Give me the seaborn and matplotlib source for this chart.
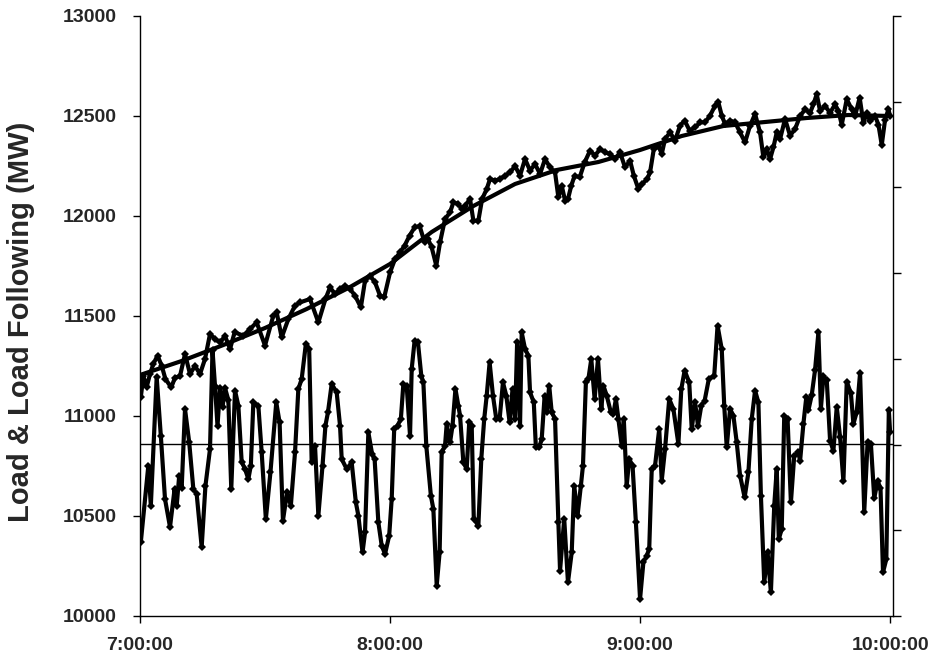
import matplotlib
matplotlib.use("Agg")
import matplotlib.pyplot as plt
import seaborn as sns
import pandas as pd

# minutes after 7:00:00
LOAD_T = [
    0.2, 0.8, 1.6, 2.4, 3.2, 4.2, 5.2, 6.1, 7.5, 8.4, 9.6, 10.8, 12.0, 13.2, 14.4,
    15.6, 16.8, 18.0, 19.2, 20.4, 21.6, 22.7, 24.8, 26.4, 28.0, 30.0, 32.0, 32.8,
    34.0, 35.6, 37.2, 38.4, 40.8, 42.8, 44.5, 45.6, 46.8, 48.0, 49.2, 50.4, 51.6,
    53.0, 54.0, 55.2, 56.4, 57.6, 58.6, 60.0, 61.2, 62.4, 63.5, 64.7, 65.9, 67.1,
    68.3, 69.1, 70.0, 71.1, 72.0, 73.2, 74.4, 75.2, 76.4, 77.2, 78.0, 79.2, 80.0,
    81.2, 82.1, 83.2, 84.0, 85.2, 86.4, 87.6, 88.8, 90.0, 91.2, 92.4, 93.6, 94.8,
    96.0, 97.2, 98.4, 99.6, 100.4, 101.2, 102.0, 102.7, 103.5, 104.3, 105.5,
    106.7, 108.0, 109.2, 110.4, 111.6, 112.8, 114.0, 115.2, 116.4, 117.6, 118.5,
    119.6, 120.5, 121.7, 122.4, 123.3, 124.4, 125.2, 126.0, 127.2, 128.4, 129.6,
    130.7, 131.9, 133.2, 134.4, 135.6, 136.8, 138.0, 138.8, 139.6, 140.4, 141.6,
    142.8, 144.0, 145.2, 146.4, 147.6, 148.8, 149.6, 150.4, 151.2, 152.0, 152.8,
    153.6, 154.8, 156.0, 157.2, 158.4, 159.6, 160.8, 161.6, 162.4, 163.2, 164.4,
    165.6, 166.8, 167.6, 168.4, 169.6, 170.8, 171.6, 172.7, 173.6, 174.4, 175.2,
    176.4, 177.2, 178.0, 178.8, 179.6, 180.0,
]
LOAD_MW = [
    11095, 11200, 11145, 11210, 11260, 11302, 11252, 11185, 11143, 11192, 11200,
    11310, 11210, 11250, 11210, 11285, 11410, 11385, 11368, 11400, 11335, 11418,
    11402, 11435, 11468, 11352, 11502, 11518, 11393, 11485, 11552, 11568, 11585,
    11468, 11585, 11643, 11610, 11635, 11652, 11635, 11602, 11543, 11677, 11702,
    11668, 11602, 11593, 11718, 11785, 11818, 11852, 11902, 11943, 11950, 11868,
    11885, 11843, 11752, 11868, 11985, 12018, 12068, 12060, 12035, 12052, 12085,
    11977, 11977, 12085, 12135, 12185, 12177, 12185, 12202, 12218, 12250, 12202,
    12285, 12227, 12260, 12210, 12285, 12243, 12218, 12093, 12152, 12077, 12085,
    12152, 12202, 12193, 12268, 12327, 12302, 12335, 12318, 12310, 12285, 12318,
    12243, 12277, 12202, 12135, 12160, 12185, 12218, 12335, 12352, 12310, 12385,
    12418, 12377, 12452, 12477, 12427, 12443, 12468, 12468, 12502, 12552, 12568,
    12502, 12460, 12477, 12468, 12418, 12368, 12452, 12510, 12418, 12293, 12335,
    12285, 12343, 12418, 12385, 12485, 12402, 12435, 12500, 12533, 12516, 12558,
    12609, 12525, 12550, 12516, 12558, 12525, 12457, 12584, 12533, 12500, 12592,
    12465, 12516, 12474, 12500, 12457, 12355, 12482, 12533, 12500,
]

FOLLOW_T = [
    0.2, 2.0, 2.6, 4.0, 5.0, 6.0, 7.2, 8.3, 8.8, 9.4, 10.0, 10.8, 11.8, 12.8, 13.6,
    14.8, 15.7, 16.8, 17.4, 18.0, 18.6, 19.2, 19.8, 20.4, 21.2, 21.9, 22.8, 23.6,
    24.4, 25.2, 26.0, 26.6, 27.2, 28.4, 29.2, 30.2, 31.3, 32.7, 33.5, 34.3, 35.3,
    36.2, 37.2, 38.0, 38.8, 39.8, 40.6, 41.2, 42.0, 42.8, 43.8, 44.5, 45.1, 46.0,
    47.2, 48.0, 48.4, 49.6, 50.8, 51.8, 52.4, 53.4, 54.0, 54.8, 55.7, 56.3, 57.2,
    58.0, 58.8, 59.8, 60.4, 61.0, 61.8, 62.6, 63.2, 64.0, 64.8, 65.2, 65.9, 66.7,
    67.5, 68.0, 68.7, 69.8, 70.4, 71.2, 71.9, 72.4, 73.2, 73.6, 74.4, 75.0, 75.7,
    76.4, 76.8, 77.6, 78.4, 79.0, 79.6, 80.1, 81.2, 81.9, 82.6, 83.2, 83.9, 84.7,
    85.5, 86.3, 87.1, 87.9, 88.7, 89.4, 90.0, 90.5, 91.2, 91.6, 92.4, 93.2, 93.6,
    94.5, 95.0, 95.8, 96.4, 97.1, 97.6, 98.2, 98.8, 99.6, 100.4, 100.8, 101.8,
    102.7, 103.6, 104.2, 105.0, 105.8, 106.3, 107.0, 107.6, 108.3, 109.1, 109.9,
    110.7, 111.2, 112.0, 113.0, 113.6, 114.2, 114.8, 115.6, 116.1, 116.8, 117.4,
    118.2, 119.0, 120.0, 120.8, 121.6, 122.2, 122.8, 123.6, 124.6, 125.2, 126.0,
    127.0, 128.0, 129.2, 129.9, 130.7, 131.8, 132.4, 133.2, 133.9, 134.7, 135.5,
    136.5, 137.8, 138.6, 139.6, 140.2, 140.8, 141.6, 142.4, 143.2, 144.0, 145.1,
    146.0, 146.8, 147.6, 148.4, 149.0, 149.8, 150.6, 151.4, 152.2, 152.8, 153.3,
    154.0, 154.6, 155.4, 156.2, 157.0, 158.0, 158.4, 159.2, 159.9, 160.4, 161.2,
    162.0, 162.8, 163.4, 164.0, 164.8, 165.6, 166.4, 167.2, 168.0, 168.8, 169.6,
    170.6, 171.2, 172.0, 172.8, 173.8, 174.6, 175.4, 176.2, 177.0, 177.7, 178.3,
    179.1, 179.7, 180.0,
]
FOLLOW_MW = [
    10370, 10752, 10552, 11195, 10900, 10585, 10445, 10635, 10550, 10700, 10640,
    11035, 10870, 10635, 10610, 10345, 10650, 10835, 11330, 11150, 10950, 11140,
    11045, 11140, 11080, 10635, 11127, 11052, 10770, 10735, 10685, 10752, 11068,
    11052, 10818, 10485, 10718, 11068, 10968, 10477, 10618, 10552, 10818, 11135,
    11185, 11360, 11335, 10768, 10852, 10502, 10752, 10952, 11018, 11160, 11118,
    10952, 10785, 10735, 10768, 10568, 10502, 10318, 10418, 10918, 10810, 10785,
    10468, 10352, 10310, 10402, 10585, 10935, 10952, 10985, 11160, 11150, 10902,
    11235, 11377, 11368, 11202, 11168, 10852, 10602, 10535, 10152, 10318, 10818,
    10852, 10960, 10868, 10952, 11135, 11052, 11002, 10768, 10735, 10968, 10952,
    10485, 10452, 10785, 10985, 11102, 11268, 11102, 10985, 10985, 11168, 11102,
    10968, 11135, 10985, 11368, 10952, 11418, 11335, 11302, 11118, 11068, 10843,
    10843, 10885, 11102, 11018, 11152, 11018, 10985, 10468, 10227, 10485, 10168,
    10318, 10652, 10502, 10652, 10752, 11168, 11185, 11285, 11085, 11285, 11035,
    11152, 11102, 11018, 11010, 11085, 10985, 10852, 10985, 10652, 10785, 10752,
    10468, 10085, 10268, 10302, 10335, 10735, 10752, 10935, 10677, 10835, 11085,
    11035, 10860, 11135, 11227, 11168, 10935, 11068, 10952, 11052, 11077, 11185,
    11202, 11452, 11335, 11052, 10843, 11035, 11002, 10868, 10702, 10593, 10718,
    10985, 11127, 11068, 10602, 10168, 10318, 10118, 10552, 10735, 10385, 10435,
    11002, 10985, 10568, 10802, 10818, 10775, 10961, 11096, 11029, 11105, 11231,
    11418, 11037, 11198, 11180, 10877, 10826, 11046, 10893, 10674, 11172, 11113,
    10961, 11020, 11215, 10522, 10868, 10860, 10589, 10674, 10640, 10218, 10285,
    11029, 10919,
]

TREND_T = [0, 10, 20, 30, 40, 50, 60, 70, 80, 90, 100, 110, 120, 130, 140, 150,
           160, 170, 180]
TREND_MW = [11205, 11275, 11355, 11440, 11535, 11640, 11760, 11920, 12050, 12160,
            12230, 12270, 12330, 12400, 12450, 12470, 12490, 12505, 12500]

BASELINE_MW = 10860

X_TICKS = [0, 60, 120, 180]
X_LABELS = ["7:00:00", "8:00:00", "9:00:00", "10:00:00"]
Y_TICKS = [10000, 10500, 11000, 11500, 12000, 12500, 13000]

sns.set_theme(style="white")
plt.rcParams["font.family"] = ["Liberation Sans", "DejaVu Sans"]

fig = plt.figure(figsize=(9.33, 6.63), dpi=100)
ax = fig.add_axes([140 / 933, 1 - 616 / 663, 753 / 933, 600 / 663])

load = pd.DataFrame({"t": LOAD_T, "mw": LOAD_MW})
follow = pd.DataFrame({"t": FOLLOW_T, "mw": FOLLOW_MW})
trend = pd.DataFrame({"t": TREND_T, "mw": TREND_MW})

ax.axhline(BASELINE_MW, color="black", linewidth=1.0, zorder=1)
line_kw = dict(color="black", linewidth=3.0, marker="D", markersize=4,
               markeredgewidth=0, estimator=None, sort=False)
sns.lineplot(data=follow, x="t", y="mw", ax=ax, **line_kw)
sns.lineplot(data=load, x="t", y="mw", ax=ax, **line_kw)
sns.lineplot(data=trend, x="t", y="mw", ax=ax, color="black", linewidth=3.0,
             estimator=None, sort=False)

ax.set_xlim(0, 180.7)
ax.set_ylim(10000, 13000)
ax.set_xticks(X_TICKS)
ax.set_xticklabels(X_LABELS)
ax.set_yticks(Y_TICKS)
ax.set_xlabel("")
ax.set_ylabel("Load & Load Following (MW)", fontsize=21, fontweight="bold")
ax.yaxis.set_label_coords(-0.139, 0.49)
for lab in ax.get_xticklabels() + ax.get_yticklabels():
    lab.set_fontweight("bold")
    lab.set_fontsize(14)
ax.tick_params(axis="both", direction="out", length=5, width=1, color="black",
               left=True, bottom=True)
ax.tick_params(axis="y", pad=12)
ax.tick_params(axis="x", pad=10)
for side in ["left", "bottom"]:
    ax.spines[side].set_color("black")
    ax.spines[side].set_linewidth(1)
ax.spines["top"].set_visible(False)
ax.spines["right"].set_visible(False)

# secondary axis: ticks only, no labels
ax2 = ax.twinx()
ax2.set_ylim(0, 7)
ax2.set_yticks(range(8))
ax2.set_yticklabels([])
ax2.tick_params(axis="y", direction="out", length=6, width=1, color="black",
                right=True)
ax2.spines["right"].set_color("black")
ax2.spines["right"].set_linewidth(1)
for side in ["left", "bottom", "top"]:
    ax2.spines[side].set_visible(False)
ax2.grid(False)

fig.savefig("out.png", dpi=100)
